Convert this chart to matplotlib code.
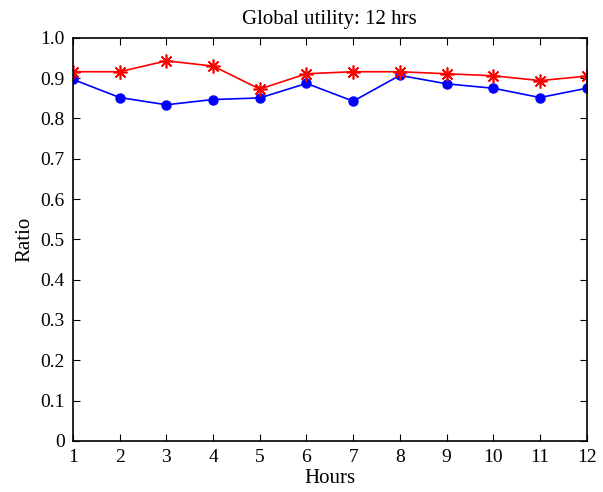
import numpy as np
import matplotlib.pyplot as plt

plt.rcParams['font.family'] = ['Liberation Serif', 'DejaVu Serif']

hours = list(range(1, 13))
ratio_red = [0.916, 0.916, 0.943, 0.930, 0.873, 0.911, 0.916, 0.916, 0.911, 0.906, 0.894, 0.905]
ratio_blue = [0.897, 0.852, 0.834, 0.847, 0.851, 0.887, 0.843, 0.907, 0.886, 0.875, 0.852, 0.875]
yticks = [0, 0.1, 0.2, 0.3, 0.4, 0.5, 0.6, 0.7, 0.8, 0.9, 1.0]
ylabels = ['0', '0.1', '0.2', '0.3', '0.4', '0.5', '0.6', '0.7', '0.8', '0.9', '1.0']

fig = plt.figure(figsize=(6.03, 4.92), dpi=100)
ax = fig.add_axes([0.121, 0.104, 0.852, 0.819])

ax.plot(hours, ratio_blue, color='blue', marker='o', markersize=6.5, linewidth=1.2)
# MATLAB-style asterisk marker (+ and x combined)
ax.plot(hours, ratio_red, color='red', marker=(8, 2, 0), markersize=10,
        markeredgewidth=1.2, linewidth=1.2)

ax.set_xlim(1, 12)
ax.set_ylim(0, 1)
ax.set_xticks(hours)
ax.set_yticks(yticks)
ax.set_yticklabels(ylabels)
ax.tick_params(direction='in', top=True, right=True, labelsize=14, length=5, pad=6)
for s in ax.spines.values():
    s.set_linewidth(1.2)

ax.set_xlabel('Hours', fontsize=15, labelpad=2)
ax.set_ylabel('Ratio', fontsize=15, labelpad=4)
ax.set_title('Global utility: 12 hrs', fontsize=15, pad=10)

fig.savefig('out.png', dpi=100)
